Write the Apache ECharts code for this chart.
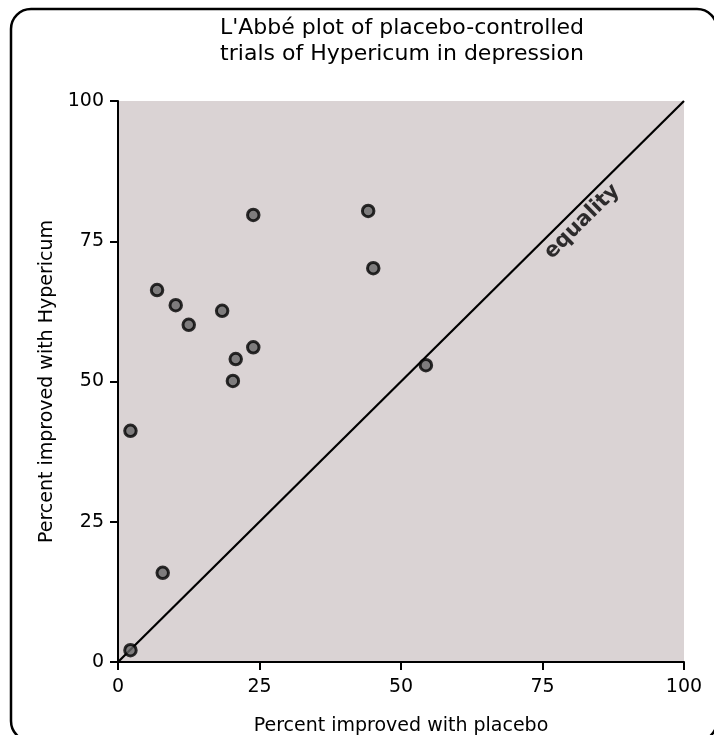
<!DOCTYPE html>
<html>
<head>
<meta charset="utf-8">
<script src="https://cdn.jsdelivr.net/npm/echarts@6/dist/echarts.min.js"></script>
<style>
html,body{margin:0;padding:0;background:#fff;overflow:hidden;}
#c{width:714px;height:735px;}
</style>
</head>
<body>
<div id="c"></div>
<script>
const titleText = "L'Abbé plot of placebo-controlled\ntrials of Hypericum in depression";
const xName = "Percent improved with placebo";
const yName = "Percent improved with Hypericum";
const placebo =    [6.9, 10.2, 12.5, 18.4, 23.9, 23.9, 20.8, 20.3, 44.2, 45.1, 54.4, 2.2, 7.9, 2.2];
const hypericum =  [66.3, 63.6, 60.1, 62.6, 79.7, 56.1, 54.0, 50.1, 80.4, 70.2, 52.9, 41.2, 15.9, 2.1];
const equalityLine = [[0, 0], [100, 100]];
const equalityLabel = "equality";
const equalityLabelAt = [[82.0, 78.5]];
const axisTicks = [0, 25, 50, 75, 100];

const font = "'DejaVu Sans', sans-serif";
const chart = echarts.init(document.getElementById('c'), null, {renderer: 'canvas'});
const pts = placebo.map((x, i) => [x, hypericum[i]]);

chart.setOption({
  animation: false,
  backgroundColor: '#ffffff',
  title: {
    text: titleText,
    left: 397, top: 10, textAlign: 'center',
    textStyle: {fontFamily: font, fontWeight: 'normal', fontSize: 22, lineHeight: 26, color: '#000'}
  },
  graphic: [{
    type: 'rect', z: 100, silent: true,
    shape: {x: 11, y: 9, width: 706, height: 732, r: 20},
    style: {fill: 'none', stroke: '#000', lineWidth: 2.5}
  }],
  grid: {left: 118, right: 30, top: 101, bottom: 73, show: true, backgroundColor: '#dad3d4', borderWidth: 0,
         containLabel: false, outerBoundsMode: 'none'},
  xAxis: {
    type: 'value', min: axisTicks[0], max: axisTicks[axisTicks.length - 1], interval: 25,
    name: xName, nameLocation: 'middle', nameGap: 55,
    nameTextStyle: {fontFamily: font, fontSize: 19, color: '#000'},
    axisLine: {show: true, onZero: false, lineStyle: {color: '#000', width: 2}},
    axisTick: {show: true, length: 8, lineStyle: {color: '#000', width: 2}},
    axisLabel: {fontFamily: font, fontSize: 19, color: '#000', margin: 16},
    splitLine: {show: false}
  },
  yAxis: {
    type: 'value', min: axisTicks[0], max: axisTicks[axisTicks.length - 1], interval: 25,
    name: yName, nameLocation: 'middle', nameGap: 60,
    nameTextStyle: {fontFamily: font, fontSize: 19, color: '#000'},
    axisLine: {show: true, onZero: false, lineStyle: {color: '#000', width: 2}},
    axisTick: {show: true, length: 8, lineStyle: {color: '#000', width: 2}},
    axisLabel: {fontFamily: font, fontSize: 19, color: '#000', margin: 14},
    splitLine: {show: false}
  },
  series: [
    {
      type: 'line', data: equalityLine, symbol: 'none', z: 2,
      lineStyle: {color: '#000', width: 2.2}, silent: true
    },
    {
      type: 'scatter', data: equalityLabelAt, symbolSize: 0, z: 3, silent: true,
      label: {
        show: true, position: 'inside', formatter: equalityLabel, rotate: 44.75,
        fontFamily: font, fontSize: 21, fontWeight: 'bold', color: '#000'
      }
    },
    {
      type: 'scatter', data: pts, symbol: 'circle', symbolSize: 11.5, z: 5,
      itemStyle: {color: '#666666', borderColor: '#000', borderWidth: 3}
    }
  ]
});
</script>
</body>
</html>
